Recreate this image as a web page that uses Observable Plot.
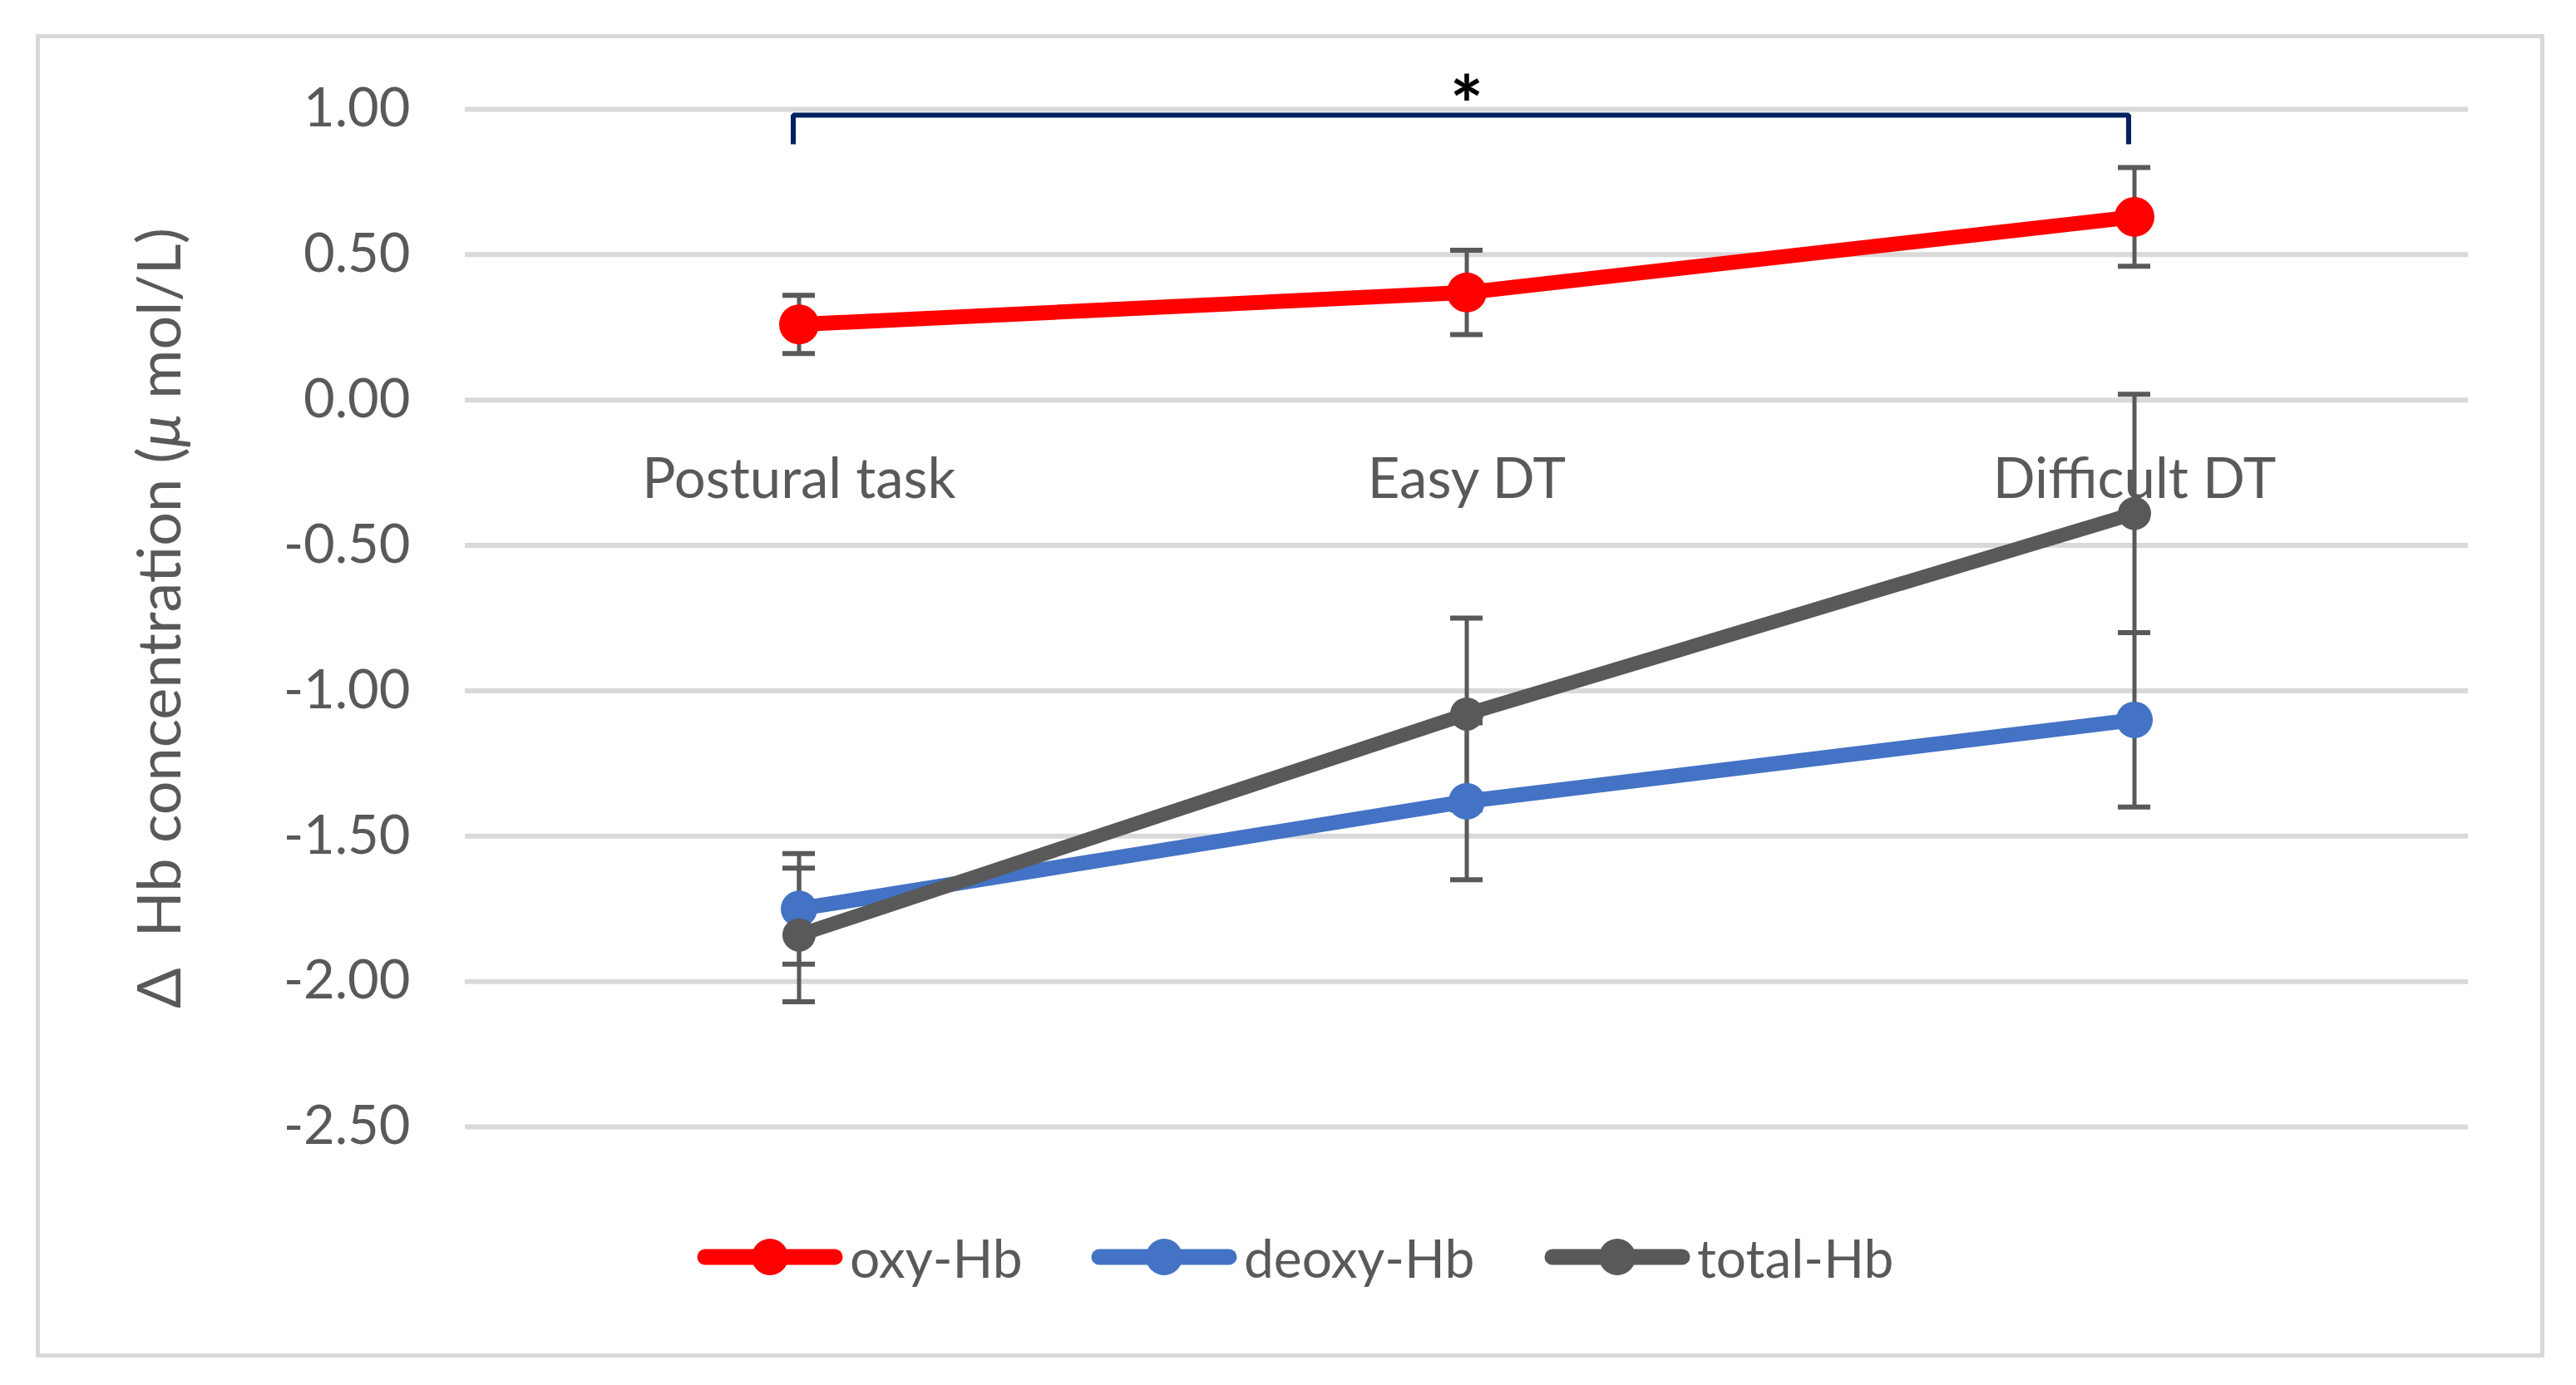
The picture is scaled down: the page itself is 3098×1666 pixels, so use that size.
<!DOCTYPE html>
<html>
<head>
<meta charset="utf-8">
<script src="https://cdn.jsdelivr.net/npm/d3@7"></script>
<script src="https://cdn.jsdelivr.net/npm/@observablehq/plot@0.6"></script>
<style>
  html, body { margin: 0; padding: 0; background: #ffffff; }
  body { width: 3098px; height: 1666px; position: relative; overflow: hidden; font-family: Lato, sans-serif; }
  #chart { position: absolute; left: 0; top: 0; }
  #frame { position: absolute; left: 43px; top: 41px; width: 3017px; height: 1592px; box-sizing: border-box; border: 5px solid #d9d9d9; pointer-events: none; }
  .legend-item { position: absolute; top: 1482px; height: 60px; display: flex; align-items: center; color: #595959; font-size: 64px; font-family: Lato, sans-serif; }
  .legend-item svg { display: block; margin-right: 8px; }
</style>
</head>
<body>
<div id="chart"></div>
<div id="frame"></div>
<div id="legend"></div>
<script>
// ---- data ----
const categories = ["Postural task", "Easy DT", "Difficult DT"];
const seriesNames = ["oxy-Hb", "deoxy-Hb", "total-Hb"];
const seriesColors = ["#ff0000", "#4472c4", "#595959"];
const oxyMean = [0.26, 0.37, 0.63];
const oxyErr = [0.10, 0.145, 0.17];
const deoxyMean = [-1.75, -1.38, -1.10];
const deoxyErr = [0.19, 0.27, 0.30];
const totalMean = [-1.84, -1.08, -0.39];
const totalErr = [0.23, 0.33, 0.41];
const yTicks = [1.0, 0.5, 0.0, -0.5, -1.0, -1.5, -2.0, -2.5];
const yLabel = "\u0394\u00a0\u00a0Hb concentration (\u03bc mol/L)";
const sigFrom = "Postural task";
const sigTo = "Difficult DT";
const sigMid = "Easy DT";
const sigTop = 0.98;
const sigLeg = 0.88;
const sigLabel = "*";

// ---- build table ----
const means = [oxyMean, deoxyMean, totalMean];
const errs = [oxyErr, deoxyErr, totalErr];
const rows = [];
seriesNames.forEach((s, i) => {
  categories.forEach((c, j) => {
    rows.push({series: s, category: c, mean: means[i][j], err: errs[i][j]});
  });
});
const bracket = [
  {x: sigFrom, y: sigLeg}, {x: sigFrom, y: sigTop},
  {x: sigTo, y: sigTop}, {x: sigTo, y: sigLeg}
];

const lineWidths = {"oxy-Hb": 18, "deoxy-Hb": 18, "total-Hb": 17};
const dotR = {"oxy-Hb": 24, "deoxy-Hb": 22, "total-Hb": 20};
const colorOf = Object.fromEntries(seriesNames.map((s, i) => [s, seriesColors[i]]));

const W = 3098, H = 1420;
const seriesMarks = [];
seriesNames.forEach(s => {
  const d = rows.filter(r => r.series === s);
  seriesMarks.push(Plot.line(d, {x: "category", y: "mean", stroke: colorOf[s], strokeWidth: lineWidths[s], strokeLinejoin: "round", strokeLinecap: "round"}));
});
seriesNames.forEach(s => {
  const d = rows.filter(r => r.series === s);
  seriesMarks.push(Plot.dot(d, {x: "category", y: "mean", fill: colorOf[s], r: dotR[s], stroke: "none"}));
});

const chart = Plot.plot({
  width: W,
  height: H,
  marginLeft: 559,
  marginRight: 130,
  marginTop: 131,
  marginBottom: H - 1355,
  x: {domain: categories, type: "band", padding: 0, axis: null},
  y: {domain: [-2.5, 1], ticks: yTicks, tickFormat: d => d.toFixed(2), tickSize: 0, tickPadding: 66, label: null},
  style: {fontFamily: "Lato, sans-serif", fontSize: "65px", color: "#595959", background: "transparent", overflow: "visible"},
  marks: [
    Plot.ruleY(yTicks, {stroke: "#d9d9d9", strokeWidth: 6}),
    Plot.text(categories, {x: d => d, y: () => 0, dy: 96, fill: "#595959", fontSize: 67}),
    Plot.text([yLabel], {frameAnchor: "left", textAnchor: "middle", rotate: -90, dx: -366, fill: "#595959", fontSize: 72}),
    Plot.line(bracket, {x: "x", y: "y", dx: -7, stroke: "#002060", strokeWidth: 6, strokeLinejoin: "miter", strokeLinecap: "butt"}),
    Plot.text([sigLabel], {x: () => sigMid, y: () => sigTop, dy: -8, fill: "#000000", fontWeight: "bold", fontSize: 95}),
    Plot.ruleX(rows, {x: "category", y1: d => d.mean - d.err, y2: d => d.mean + d.err, stroke: "#595959", strokeWidth: 5}),
    Plot.tickY(rows, {x: "category", y: d => d.mean + d.err, stroke: "#595959", strokeWidth: 6, insetLeft: 382, insetRight: 382}),
    Plot.tickY(rows, {x: "category", y: d => d.mean - d.err, stroke: "#595959", strokeWidth: 6, insetLeft: 382, insetRight: 382}),
    ...seriesMarks
  ]
});
document.getElementById("chart").appendChild(chart);

// italic mu in the y label, as in the reference
d3.select(chart).selectAll("text").each(function() {
  if (this.textContent === yLabel) {
    const parts = yLabel.split("\u03bc");
    const sel = d3.select(this);
    sel.text("");
    sel.append("tspan").text(parts[0]);
    sel.append("tspan").attr("font-style", "italic").text("\u03bc");
    sel.append("tspan").text(parts[1]);
  }
});

// ---- legend (HTML, inside the chart border) ----
const legendLefts = [838, 1312, 1857];
const legend = document.getElementById("legend");
seriesNames.forEach((s, i) => {
  const item = document.createElement("div");
  item.className = "legend-item";
  item.style.left = legendLefts[i] + "px";
  const ns = "http://www.w3.org/2000/svg";
  const sw = document.createElementNS(ns, "svg");
  sw.setAttribute("width", 176); sw.setAttribute("height", 60);
  const ln = document.createElementNS(ns, "line");
  ln.setAttribute("x1", 10); ln.setAttribute("x2", 166); ln.setAttribute("y1", 30); ln.setAttribute("y2", 30);
  ln.setAttribute("stroke", seriesColors[i]); ln.setAttribute("stroke-width", 19); ln.setAttribute("stroke-linecap", "round");
  const c = document.createElementNS(ns, "circle");
  c.setAttribute("cx", 88); c.setAttribute("cy", 30); c.setAttribute("r", 22); c.setAttribute("fill", seriesColors[i]);
  sw.appendChild(ln); sw.appendChild(c);
  const t = document.createElement("span");
  t.textContent = s;
  item.appendChild(sw); item.appendChild(t);
  legend.appendChild(item);
});
</script>
</body>
</html>
